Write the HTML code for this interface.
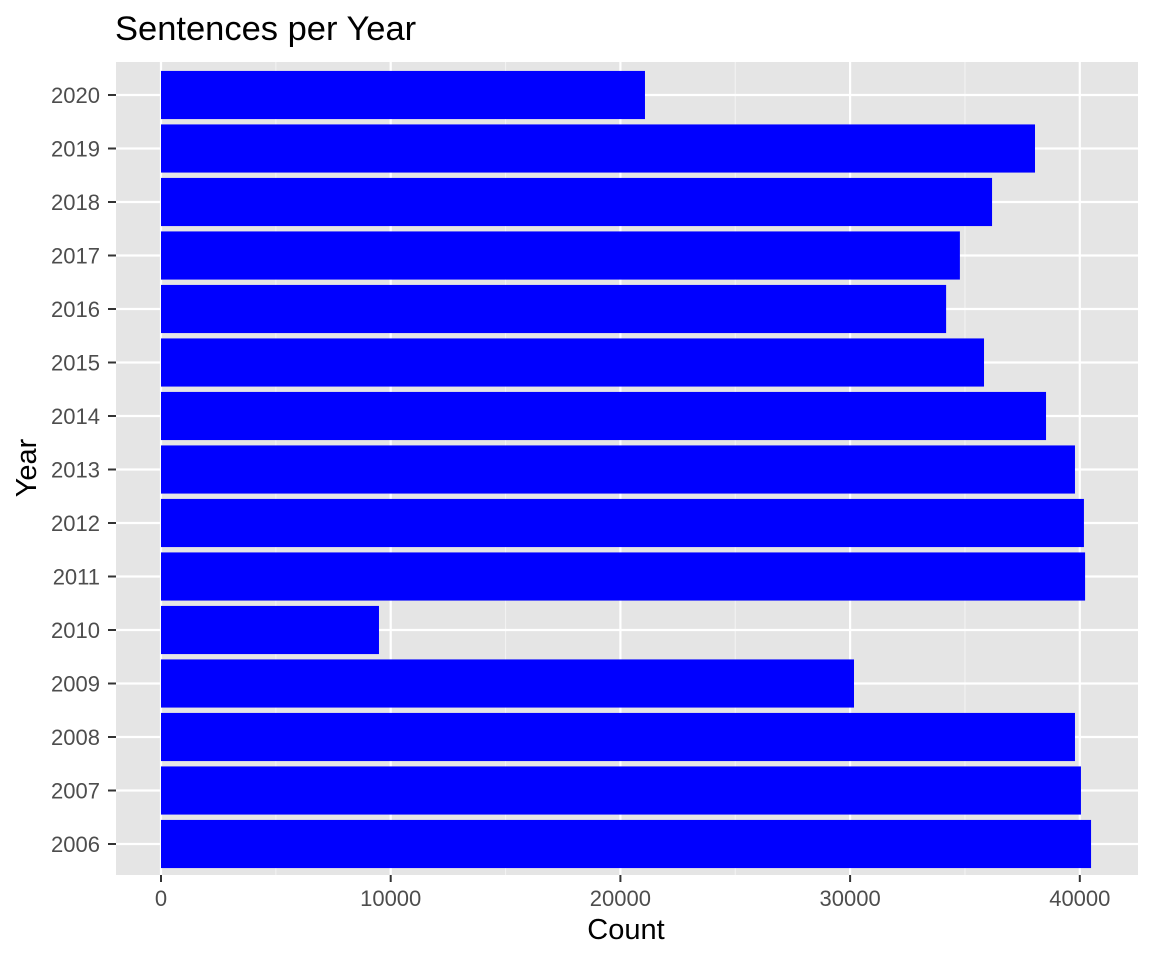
<!DOCTYPE html>
<html><head><meta charset="utf-8"><style>
body{margin:0;background:#fff;}
svg text{font-family:"Liberation Sans",Arial,sans-serif;}
</style></head><body>
<svg id="chart" width="1152" height="960" xmlns="http://www.w3.org/2000/svg">
<text x="115" y="40" font-size="34.5" fill="#000">Sentences per Year</text>
<rect x="116" y="62" width="1022" height="813" fill="#e5e5e5"/>
<g id="grid"></g>
<g id="bars"></g>
<g id="axes"></g>
<text x="626" y="939" font-size="29" text-anchor="middle" fill="#000">Count</text>
<text transform="translate(36,468) rotate(-90)" font-size="29" text-anchor="middle" fill="#000">Year</text>
</svg>
<script>
const years = ["2006","2007","2008","2009","2010","2011","2012","2013","2014","2015","2016","2017","2018","2019","2020"];
const counts = [40490,40050,39790,30170,9490,40230,40180,39790,38530,35830,34180,34780,36180,38050,21070];
const xTicks = [0,10000,20000,30000,40000];
const NS="http://www.w3.org/2000/svg";
const x0=161, pxPer=22.97/1000;
function xs(v){return x0+v*pxPer;}
const yTop=95, yBot=844;
function ys(i){return yBot-i*(yBot-yTop)/(years.length-1);}
const step=(yBot-yTop)/(years.length-1), bh=step*0.9;
function mk(tag,attrs,parent){const e=document.createElementNS(NS,tag);for(const k in attrs)e.setAttribute(k,attrs[k]);parent.appendChild(e);return e;}
const grid=document.getElementById('grid'),bars=document.getElementById('bars'),axes=document.getElementById('axes');
for(let i=0;i<xTicks.length-1;i++){
  const m=xs((xTicks[i]+xTicks[i+1])/2);
  const l=mk('line',{x1:m,x2:m,y1:62,y2:875,stroke:'#f2f2f2','stroke-width':1.1},grid);
  
  
}
{const m=xs(xTicks[xTicks.length-1]+5000);
 if(m<1138){const l=mk('line',{x1:m,x2:m,y1:62,y2:875,stroke:'#f2f2f2','stroke-width':1.1},grid);}}
xTicks.forEach(t=>{
  const x=xs(t);
  const l=mk('line',{x1:x,x2:x,y1:62,y2:875,stroke:'#fff','stroke-width':2.2},grid);
  
  
  mk('line',{x1:x,x2:x,y1:875,y2:882,stroke:'#333','stroke-width':2},axes);
  const tx=mk('text',{x:x,y:906,'font-size':22,'text-anchor':'middle',fill:'#4d4d4d'},axes);
  tx.textContent=t;
  
  
});
years.forEach((yr,i)=>{
  const y=ys(i);
  const l=mk('line',{x1:116,x2:1138,y1:y,y2:y,stroke:'#fff','stroke-width':2.2},grid);
  
  
  const r=mk('rect',{x:xs(0),y:y-bh/2,width:xs(counts[i])-xs(0),height:bh,fill:'#0000ff'},bars);
  
  
  mk('line',{x1:108,x2:116,y1:y,y2:y,stroke:'#333','stroke-width':2},axes);
  const tx=mk('text',{x:100,y:y+8,'font-size':22,'text-anchor':'end',fill:'#4d4d4d'},axes);
  tx.textContent=yr;
  
  
});
</script>
</body></html>
